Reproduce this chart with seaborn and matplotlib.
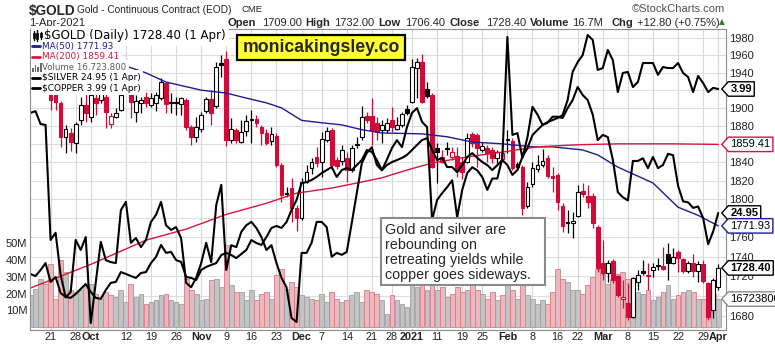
import numpy as np
import pandas as pd
import matplotlib
matplotlib.use("Agg")
import matplotlib.pyplot as plt
import matplotlib.transforms as mtransforms
from matplotlib.path import Path
from matplotlib.lines import Line2D
from matplotlib.patches import Rectangle
from matplotlib.ticker import NullLocator, NullFormatter
import seaborn as sns

# ---------------- data ----------------
holidays = ["2020-11-26", "2020-12-25", "2021-01-01", "2021-01-18", "2021-02-15"]
first_day, last_day = "2020-09-15", "2021-04-01"

open_ = [1952, 1958, 1962, 1966, 1955, 1915, 1906, 1867, 1872, 1861,
         1886.7, 1903, 1890, 1911, 1909, 1912, 1882, 1890, 1898, 1930,
         1925, 1895.6, 1905.6, 1912, 1903, 1905.6, 1911, 1928, 1906.5, 1905,
         1904.5, 1909, 1879, 1868, 1876.7, 1896.7, 1910, 1902, 1951, 1955.5,
         1864.5, 1875.6, 1862, 1874.5, 1888, 1888, 1879, 1872, 1863, 1869,
         1836.8, 1806, 1812, 1790.5, 1780, 1818.5, 1833.5, 1845.6, 1840, 1864.5,
         1875.6, 1842, 1841, 1844.4, 1831.4, 1859.5, 1868, 1891, 1891, 1883.3,
         1875.6, 1875.6, 1886.7, 1876.7, 1881, 1899, 1906.7, 1945, 1952, 1921,
         1914.5, 1855.6, 1845.6, 1855, 1845.6, 1846.7, 1840, 1840, 1871, 1870,
         1853, 1855.6, 1853.3, 1844.4, 1843.9, 1865.6, 1863.3, 1837.8, 1834.6, 1792.6,
         1816.3, 1832.5, 1836.8, 1844.4, 1825, 1826, 1792.6, 1775.8, 1774.7, 1782,
         1808.5, 1804, 1804, 1770.5, 1733, 1723, 1736, 1720, 1697, 1693,
         1679, 1714, 1725, 1721, 1726, 1731, 1730, 1743, 1733, 1745,
         1738, 1725, 1733, 1725, 1732, 1713, 1686, 1709]
high = [1968, 1972, 1975, 1970, 1958, 1920, 1908, 1881, 1878, 1884,
        1912, 1917, 1922, 1920, 1925, 1920, 1894.5, 1900, 1932, 1937,
        1928, 1914.5, 1912, 1918, 1917, 1918, 1934, 1929, 1917, 1912,
        1912, 1911, 1881, 1890, 1895.6, 1912, 1920, 1952, 1960, 1964.5,
        1889, 1878, 1886.7, 1892, 1898, 1892, 1881, 1876, 1879, 1872,
        1839, 1813, 1823, 1793.7, 1823, 1837, 1845, 1856.7, 1873, 1879,
        1878, 1845.6, 1859, 1851, 1859, 1868, 1902, 1895.6, 1911, 1890,
        1886.7, 1889, 1901, 1890, 1895.6, 1903, 1955.5, 1956.6, 1961, 1929,
        1917, 1861, 1853.3, 1862, 1856.7, 1856.7, 1845.6, 1872, 1873, 1872,
        1862, 1859, 1856.7, 1853, 1861, 1875.6, 1866.7, 1840, 1836.8, 1818.5,
        1840, 1847.8, 1854.5, 1847.8, 1834.6, 1828, 1795.8, 1788.4, 1786, 1815,
        1817.4, 1815, 1806.3, 1772.6, 1757, 1737, 1738, 1721, 1716, 1713,
        1719, 1726, 1737, 1733, 1733, 1739, 1749.5, 1753.7, 1748.4, 1747,
        1739, 1736, 1743, 1736, 1737, 1714, 1718, 1732]
low = [1948, 1953, 1950, 1945, 1898, 1898, 1856, 1850, 1852, 1850,
       1881, 1884, 1884, 1892, 1905, 1877, 1878, 1889, 1896, 1918,
       1889, 1884.5, 1894.5, 1901, 1901, 1896, 1909, 1894.5, 1894.5, 1892,
       1892, 1875.6, 1859, 1862, 1873.3, 1894.5, 1881, 1900, 1935, 1858,
       1861, 1861, 1861, 1869, 1861, 1879, 1859, 1859, 1859, 1834.6,
       1797, 1802, 1776, 1767, 1778, 1817, 1827.5, 1834.6, 1824, 1862,
       1834.6, 1833, 1836.8, 1818.5, 1829, 1855.6, 1864.5, 1883, 1859, 1864.5,
       1861, 1872, 1873, 1875.6, 1879, 1892, 1905.6, 1911, 1905.6, 1911,
       1833.5, 1817, 1839, 1848, 1842, 1824, 1822, 1839, 1856.7, 1834.6,
       1851, 1840, 1839, 1839, 1840, 1850, 1831.4, 1831.4, 1783, 1790.5,
       1813, 1829, 1834.6, 1822.8, 1807.6, 1788.5, 1765.3, 1764.2, 1759, 1781,
       1802, 1790.5, 1769.5, 1724, 1716, 1714, 1713, 1699, 1688, 1676,
       1678, 1706, 1721, 1706, 1719, 1726, 1726, 1716, 1732, 1724,
       1723, 1723, 1719, 1714, 1713, 1676, 1678, 1706.4]
close = [1958, 1962, 1966, 1955, 1909, 1906.7, 1868, 1876.7, 1862, 1882,
         1903, 1894.5, 1915, 1905.6, 1917, 1895, 1891, 1894.5, 1914.5, 1925,
         1907, 1908, 1909, 1905.6, 1911, 1914.5, 1929, 1904.5, 1905.6, 1906.5,
         1911, 1879, 1868, 1879, 1892, 1910, 1894.5, 1946.4, 1948.7, 1864.5,
         1876.7, 1864.5, 1873, 1885.6, 1886.7, 1883, 1872, 1861, 1871, 1836.8,
         1804.3, 1805.5, 1790.5, 1780, 1818.5, 1829, 1840, 1839, 1865.6, 1874.5,
         1836.8, 1835.7, 1853, 1831.4, 1855.6, 1858.9, 1890, 1886.7, 1875.6, 1873.3,
         1881, 1883.3, 1879, 1881, 1893.3, 1894.5, 1946.4, 1952, 1906.7, 1913.3,
         1834.6, 1851, 1840, 1854.5, 1851, 1830, 1829, 1866.7, 1861, 1855.6,
         1858, 1850, 1844.4, 1851, 1850.1, 1864.5, 1833.5, 1834.6, 1790.5, 1813,
         1833.5, 1836.8, 1841, 1825, 1822.8, 1796.8, 1771.6, 1774.7, 1776.9, 1807.4,
         1805.2, 1796.8, 1774.7, 1728, 1723, 1733, 1716, 1701, 1699, 1679,
         1718, 1721, 1723, 1720, 1729, 1730, 1727, 1733, 1740, 1739,
         1725, 1733, 1725, 1732, 1715, 1679, 1715.6, 1728.4]
volume_m = [19, 23, 29, 26, 38, 17, 40, 33, 22, 21,
            22, 25, 26, 20, 17, 21, 19, 18, 22, 15,
            26, 18, 20, 14, 15, 16, 19, 20, 16, 15,
            14, 29, 22, 20, 16, 17, 28, 29, 24, 49,
            25, 21, 21, 16, 22, 16, 20, 21, 17, 31,
            35, 23, 27, 24, 19, 18, 17, 16, 20, 15,
            21, 17, 15, 16, 19, 21, 15, 22, 21, 20,
            16, 8, 19, 16, 14, 12, 25, 24, 25, 22,
            26, 22, 24, 18, 20, 24, 21, 22, 25, 22,
            20, 17, 21, 16, 19, 25, 22, 17, 30, 19,
            17, 14, 16, 14, 21, 35, 29, 27, 22, 22,
            20, 25, 30, 35, 32, 26, 29, 32, 33, 29,
            26, 21, 20, 22, 16, 18, 21, 25, 17, 19,
            21, 22, 21, 17, 17, 22, 20, 16.7238]
silver = [27.19, 27.23, 26.93, 26.91, 24.38, 24.53, 23.66, 23.21, 23.31, 24.38,
          24.17, 24.44, 22.70, 23.50, 24.34, 23.96, 23.92, 23.90, 25.01, 25.19,
          24.32, 24.42, 24.23, 24.38, 24.76, 24.91, 25.19, 24.69, 24.59, 24.65,
          24.42, 23.50, 23.41, 23.60, 23.90, 24.32, 23.92, 25.12, 25.56, 23.76,
          24.27, 24.23, 24.55, 24.69, 24.76, 24.63, 24.44, 24.17, 24.27, 23.90,
          23.60, 23.41, 22.80, 22.72, 24.11, 24.11, 24.32, 24.76, 24.76, 24.65,
          24.03, 24.11, 24.07, 24.13, 24.74, 25.38, 26.04, 26.27, 26.40, 26.00,
          25.88, 26.12, 26.38, 26.56, 26.40, 26.86, 27.19, 27.30, 26.98, 26.86,
          24.80, 25.23, 25.38, 25.51, 25.66, 24.86, 25.45, 25.82, 25.95, 25.88,
          25.73, 25.45, 25.70, 25.70, 26.16, 29.02, 26.68, 26.72, 26.16, 26.63,
          27.33, 27.15, 26.91, 26.96, 27.10, 27.10, 27.07, 27.30, 27.49, 27.80,
          27.61, 27.49, 27.15, 26.56, 26.68, 26.63, 26.12, 25.40, 25.29, 25.22,
          26.09, 26.09, 26.15, 25.93, 26.18, 25.93, 26.00, 26.25, 26.22, 25.54,
          25.20, 25.18, 25.06, 25.09, 24.84, 24.29, 24.56, 24.95]
copper = [3.084, 3.075, 3.101, 3.131, 3.050, 3.071, 3.003, 2.987, 2.983, 2.999,
          3.020, 3.041, 3.008, 2.983, 2.979, 3.016, 3.046, 3.050, 3.092, 3.084,
          3.075, 3.067, 3.088, 3.092, 3.131, 3.158, 3.211, 3.176, 3.180, 3.144,
          3.136, 3.071, 3.067, 3.058, 3.101, 3.114, 3.123, 3.131, 3.166, 3.176,
          3.166, 3.153, 3.171, 3.189, 3.233, 3.220, 3.211, 3.247, 3.288, 3.297,
          3.288, 3.315, 3.371, 3.418, 3.500, 3.505, 3.515, 3.530, 3.549, 3.564,
          3.579, 3.530, 3.564, 3.574, 3.564, 3.589, 3.614, 3.665, 3.655, 3.614,
          3.564, 3.589, 3.604, 3.614, 3.625, 3.640, 3.665, 3.691, 3.716, 3.726,
          3.665, 3.614, 3.625, 3.579, 3.579, 3.554, 3.589, 3.630, 3.649, 3.625,
          3.604, 3.589, 3.564, 3.589, 3.614, 3.589, 3.540, 3.564, 3.630, 3.675,
          3.742, 3.769, 3.795, 3.810, 3.821, 3.832, 3.848, 3.929, 4.086, 4.142,
          4.183, 4.302, 4.272, 4.097, 4.108, 4.213, 4.154, 3.973, 4.080, 4.086,
          4.001, 4.029, 4.137, 4.137, 4.137, 4.069, 4.114, 4.108, 4.108, 4.137,
          4.080, 4.057, 3.973, 4.063, 4.023, 3.973, 3.996, 3.99]

ma50_dates = ["2020-09-15", "2020-09-29", "2020-10-12", "2020-10-16", "2020-10-22", "2020-11-02",
              "2020-11-09", "2020-11-13", "2020-11-19", "2020-11-24", "2020-12-01", "2020-12-07",
              "2020-12-11", "2020-12-17", "2020-12-23", "2021-01-06", "2021-01-13", "2021-01-21",
              "2021-01-29", "2021-02-08", "2021-02-12", "2021-02-23", "2021-02-26", "2021-03-04",
              "2021-03-15", "2021-03-22", "2021-03-26", "2021-04-01"]
ma50_vals = [1952, 1950, 1947.6, 1939.7, 1929.2, 1920, 1916.7, 1911, 1905.6, 1900, 1886, 1883.3,
             1881, 1875.6, 1872, 1871, 1867.8, 1862, 1860, 1856.7, 1856.7, 1853.3, 1847.8, 1834.6,
             1817.4, 1791.6, 1783, 1771.93]
ma200_dates = ["2020-09-15", "2020-10-01", "2020-10-16", "2020-10-28", "2020-11-09", "2020-11-19",
               "2020-11-30", "2020-12-09", "2020-12-17", "2020-12-23", "2020-12-31", "2021-01-08",
               "2021-01-20", "2021-01-29", "2021-02-09", "2021-02-22", "2021-03-04", "2021-03-19",
               "2021-04-01"]
ma200_vals = [1708, 1732, 1757, 1768.5, 1784, 1795.8, 1806.5, 1812, 1818.5, 1823, 1831.4, 1839,
              1845.6, 1851, 1856.7, 1859, 1860, 1860, 1859.41]

tick_dates = ["2020-09-21", "2020-09-28", "2020-10-01", "2020-10-12", "2020-10-19", "2020-10-26",
              "2020-11-02", "2020-11-09", "2020-11-16", "2020-11-23", "2020-12-01", "2020-12-07",
              "2020-12-14", "2020-12-21", "2020-12-28", "2021-01-04", "2021-01-11", "2021-01-19",
              "2021-01-25", "2021-02-01", "2021-02-08", "2021-02-16", "2021-02-22", "2021-03-01",
              "2021-03-08", "2021-03-15", "2021-03-22", "2021-03-29", "2021-04-01"]
tick_labels = ["21", "28", "Oct", "12", "19", "26", "Nov", "9", "16", "23", "Dec", "7", "14", "21",
               "28", "2021", "11", "19", "25", "Feb", "8", "16", "22", "Mar", "8", "15", "22", "29", "Apr"]
bold_labels = {"Oct", "Nov", "Dec", "2021", "Feb", "Mar", "Apr"}
price_ticks = list(range(1680, 2000, 20))
vol_ticks = [10, 20, 30, 40, 50]

# ---------------- styling ----------------
sns.set_theme(style="white")
plt.rcParams['font.family'] = ['Liberation Sans', 'DejaVu Sans']

RED = '#D20A3A'
NAVY = '#1C1C98'
MARED = '#DC143C'

W, H = 775, 345
fig = plt.figure(figsize=(W / 100, H / 100), dpi=100)
fig.patch.set_facecolor('white')

def fx(px):
    return px / W

def fy(py):
    return 1 - py / H

L_, R_, T_, B_ = 30, 726, 29, 330
rect = [fx(L_), fy(B_), (R_ - L_) / W, (B_ - T_) / H]

dates = pd.bdate_range(first_day, last_day)
dates = dates[~dates.isin(pd.to_datetime(holidays))]
xs = np.arange(len(dates))

def pos(ds):
    return dates.get_indexer(pd.to_datetime(ds))

o = np.array(open_); h = np.array(high); l = np.array(low); c = np.array(close)
prev = np.r_[c[0] - 1, c[:-1]]
down = c < prev

ax_grid = fig.add_axes(rect)
ax_vol = fig.add_axes(rect, sharex=ax_grid)
ax_p = fig.add_axes(rect, sharex=ax_grid)
ax_s = fig.add_axes(rect, sharex=ax_grid)
ax_c = fig.add_axes(rect, sharex=ax_grid)
all_axes = [ax_grid, ax_vol, ax_p, ax_s, ax_c]
for a in all_axes[1:]:
    a.patch.set_visible(False)
for a in all_axes:
    for sp in a.spines.values():
        sp.set_visible(False)
    a.tick_params(length=0, width=0)

GOLD_LIM = (1666.1, 1990.7)
SILVER_LIM = (22.566, 29.219)
COPPER_LIM = (2.8524, 4.3377)
VOL_LIM = (-1.8, 178.4)

# grid
ax_grid.set_yscale('log')
ax_grid.set_ylim(*GOLD_LIM)
for p in price_ticks:
    ax_grid.axhline(p, color='#dedede', lw=0.8)
for t in pos(tick_dates):
    ax_grid.axvline(t, color='#d9d9d9', lw=0.8)

# volume
ax_vol.bar(xs, volume_m, width=0.96,
           color=np.where(down, '#EAB9BF', '#C3C3C3'),
           edgecolor=np.where(down, '#D97A88', '#A0A0A0'), linewidth=0.6)
ax_vol.set_ylim(*VOL_LIM)
ax_vol.set_yticks(vol_ticks)
ax_vol.set_yticklabels([f"{v}M" for v in vol_ticks])
ax_vol.tick_params(axis='y', left=False, labelleft=True, right=False, labelright=False,
                   pad=2, labelsize=8, colors='#222222', length=0)

# candles
edge = np.where(down, RED, 'black')
face = np.where(c > o, 'white', edge)
ax_p.vlines(xs, l, h, colors=edge, linewidth=0.9, zorder=3)
body_h = np.maximum(np.abs(c - o), 0.7)
ax_p.bar(xs, body_h, bottom=np.minimum(o, c), width=0.74, color=face, edgecolor=edge,
         linewidth=0.8, zorder=4)
sns.lineplot(x=pos(ma50_dates), y=ma50_vals, ax=ax_p, color=NAVY, linewidth=1.0, zorder=5)
sns.lineplot(x=pos(ma200_dates), y=ma200_vals, ax=ax_p, color=MARED, linewidth=1.0, zorder=5)
ax_p.set_yscale('log')
ax_p.set_ylim(*GOLD_LIM)
ax_p.set_yticks(price_ticks)
ax_p.set_yticklabels([str(p) for p in price_ticks])
ax_p.yaxis.set_minor_locator(NullLocator())
ax_p.yaxis.set_minor_formatter(NullFormatter())
ax_p.tick_params(axis='y', left=False, labelleft=False, right=False, labelright=True,
                 pad=2, labelsize=8, colors='#222222', length=0)

# silver & copper overlays
sns.lineplot(x=xs, y=silver, ax=ax_s, color='black', linewidth=1.5)
ax_s.set_yscale('log'); ax_s.set_ylim(*SILVER_LIM)
sns.lineplot(x=xs, y=copper, ax=ax_c, color='black', linewidth=1.5)
ax_c.set_yscale('log'); ax_c.set_ylim(*COPPER_LIM)
for a in (ax_s, ax_c, ax_grid):
    a.set_yticks([])
    a.yaxis.set_minor_locator(NullLocator())
    a.tick_params(axis='y', left=False, right=False, labelleft=False, labelright=False)
for a in all_axes:
    a.set_xlabel(''); a.set_ylabel('')
    a.xaxis.set_minor_locator(NullLocator())

for a in all_axes[:-1]:
    a.tick_params(axis='x', bottom=False, labelbottom=False)
ax_c.set_xticks(pos(tick_dates))
lbls = ax_c.set_xticklabels(tick_labels)
for lb, t in zip(lbls, tick_labels):
    if t in bold_labels:
        lb.set_fontweight('bold')
ax_c.tick_params(axis='x', bottom=False, labelbottom=True, pad=1.5, labelsize=7.8,
                 colors='#222222', length=0)
for sp in ax_c.spines.values():
    sp.set_visible(True); sp.set_color('#8c8c8c'); sp.set_linewidth(0.8)
ax_grid.set_xlim(-0.1, 138.55)

# right-hand value tags
def tag_style(x0, y0, width, height, mutation_size):
    pad = 0.2 * mutation_size
    x0, y0 = x0 - pad, y0 - pad
    w, hh = width + 2 * pad, height + 2 * pad
    tip = 0.45 * hh
    verts = [(x0 - tip, y0 + hh / 2), (x0, y0 + hh), (x0 + w, y0 + hh), (x0 + w, y0),
             (x0, y0), (x0 - tip, y0 + hh / 2)]
    return Path(verts, closed=True)

tags = [(ax_c, copper[-1], f"{copper[-1]:.2f}", 'bold', 'black'),
        (ax_p, ma200_vals[-1], f"{ma200_vals[-1]:.2f}", 'normal', MARED),
        (ax_s, silver[-1], f"{silver[-1]:.2f}", 'bold', 'black'),
        (ax_p, ma50_vals[-1], f"{ma50_vals[-1]:.2f}", 'normal', NAVY),
        (ax_p, close[-1], f"{close[-1]:.2f}", 'bold', 'black'),
        (ax_vol, volume_m[-1], f"{int(round(volume_m[-1] * 1e6))}", 'normal', '#8a8a8a')]
for src, val, txt, wt, ec in tags:
    tr = mtransforms.blended_transform_factory(ax_c.transAxes, src.transData)
    ax_c.text(1.0065, val, txt, transform=tr, ha='left', va='center', fontsize=8,
              fontweight=wt, color='black', clip_on=False, zorder=20,
              bbox=dict(boxstyle=tag_style, fc='white', ec=ec, lw=1.0))

# ---------------- header ----------------
fig.text(fx(29), fy(11.5), "$GOLD", fontsize=9.8, fontweight='bold', va='center', ha='left')
fig.text(fx(77), fy(10), "Gold - Continuous Contract (EOD)", fontsize=7.3, va='center')
fig.text(fx(242), fy(10), "CME", fontsize=6.8, va='center')
fig.text(fx(29), fy(22.5), "1-Apr-2021", fontsize=8, va='center')
hdr = [(228, 'Open', True), (262, '1709.00', False), (305, 'High', True), (334, '1732.00', False),
       (378, 'Low', True), (405, '1706.40', False), (449, 'Close', True), (486, '1728.40', False),
       (530, 'Volume', True), (572, '16.7M', False), (612, 'Chg', True), (637, '+12.80 (+0.75%)', False)]
for px, t, b in hdr:
    fig.text(fx(px), fy(22.5), t, fontsize=8, fontweight='bold' if b else 'normal', va='center')
fig.text(fx(721.5), fy(22), '\u25B2', color='#1E8C1E', fontsize=5.5, ha='center', va='center',
         family='DejaVu Sans')
fig.text(fx(725), fy(9.5), '\u00A9StockCharts.com', ha='right', va='center', color='#505050', fontsize=8)

# ---------------- legend (top-left, white backed) ----------------
fig.patches.append(Rectangle((fx(30.5), fy(93)), 13.5 / W, 64 / H, transform=fig.transFigure,
                             fc='white', ec='none', zorder=2))
leg = [(44, 36, "$GOLD (Daily) 1728.40 (1 Apr)", 'black', 8.5),
       (42, 46.3, "MA(50) 1771.93", NAVY, 6.4),
       (42, 56.8, "MA(200) 1859.41", MARED, 6.4),
       (42, 67.2, "Volume 16,723,800", '#5a5a5a', 6.2),
       (42, 77.7, "$SILVER 24.95 (1 Apr)", 'black', 6.5),
       (42, 88.2, "$COPPER 3.99 (1 Apr)", 'black', 6.5)]
for px, py, t, col, fs in leg:
    fig.text(fx(px), fy(py), t, color=col, fontsize=fs, va='center', ha='left',
             family='DejaVu Sans', zorder=3,
             bbox=dict(boxstyle='square,pad=0.3', fc='white', ec='none'))
for py, col in [(46.3, NAVY), (56.8, MARED), (77.7, 'black'), (88.2, 'black')]:
    fig.add_artist(Line2D([fx(32), fx(40)], [fy(py), fy(py)], color=col, lw=2,
                          transform=fig.transFigure, zorder=4))
# candle icon
for (x0, y0, y1) in [(33.5, 31, 40), (37, 30, 41), (40.5, 32, 39)]:
    fig.add_artist(Line2D([fx(x0), fx(x0)], [fy(y0), fy(y1)], color='black', lw=1,
                          transform=fig.transFigure, zorder=4))
for x0, yb, hh in [(32.5, 38, 5), (36, 39, 6), (39.5, 37, 4)]:
    fig.patches.append(Rectangle((fx(x0), fy(yb)), 2 / W, hh / H, transform=fig.transFigure,
                                 fc='black', ec='black', lw=0.5, zorder=4))
# volume icon
for x0, hh in [(32, 4), (34.6, 7), (37.2, 5), (39.8, 8)]:
    fig.patches.append(Rectangle((fx(x0), fy(71.5)), 1.8 / W, hh / H, transform=fig.transFigure,
                                 fc='#6a6a6a', ec='none', zorder=4))

# ---------------- boxes ----------------
fig.patches.append(Rectangle((fx(237), fy(60)), (405 - 237) / W, 25 / H, transform=fig.transFigure,
                             fc='#FFFF33', ec='black', lw=1.6, zorder=6))
fig.text(fx(321), fy(47.5), "monicakingsley.co", fontsize=12.7, fontweight='bold',
         ha='center', va='center', zorder=7)

fig.patches.append(Rectangle((fx(381), fy(285)), (545 - 381) / W, (285 - 218) / H,
                             transform=fig.transFigure, fc='white', ec='#8a8a8a', lw=1.5, zorder=6))
note = ["Gold and silver are", "rebounding on", "retreating yields while", "copper goes sideways."]
for k, t in enumerate(note):
    fig.text(fx(385), fy(230 + 15 * k), t, fontsize=10.3, ha='left', va='center', zorder=7)

fig.savefig("out.png", dpi=100, facecolor='white')
